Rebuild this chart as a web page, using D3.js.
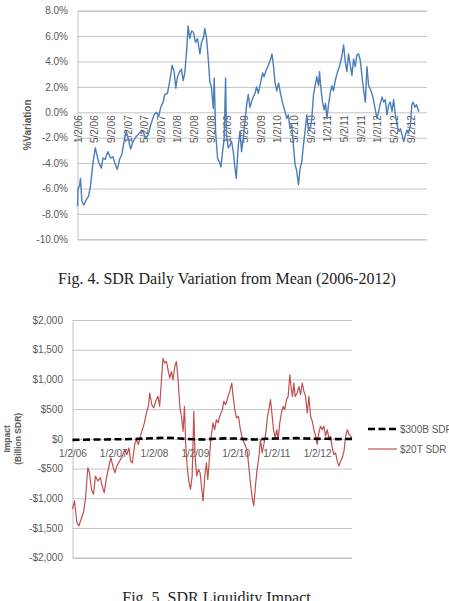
<!DOCTYPE html>
<html>
<head>
<meta charset="utf-8">
<script src="https://cdn.jsdelivr.net/npm/d3@7"></script>
<style>
  body { margin: 0; background: #fff; }
  svg { display: block; font-family: "Liberation Sans", Arial, sans-serif; }
</style>
</head>
<body>
<svg id="chart" width="449" height="601"></svg>
<script>
// ---------------- DATA ----------------
// Fig. 4: SDR daily variation from mean (%)
const c1Dates = ["2006-01-02","2006-01-06","2006-01-17","2006-01-24","2006-02-03","2006-02-17","2006-03-07","2006-03-24","2006-04-07","2006-04-24","2006-05-12","2006-05-21","2006-06-05","2006-06-25","2006-07-07","2006-07-24","2006-08-12","2006-09-01","2006-09-18","2006-10-05","2006-10-20","2006-11-06","2006-11-23","2006-12-13","2006-12-25","2007-01-06","2007-01-26","2007-02-12","2007-03-08","2007-04-02","2007-04-26","2007-05-13","2007-06-02","2007-06-21","2007-07-16","2007-08-02","2007-08-19","2007-09-03","2007-09-20","2007-10-02","2007-10-22","2007-11-08","2007-11-25","2007-12-10","2007-12-22","2008-01-03","2008-01-20","2008-02-01","2008-02-14","2008-02-26","2008-03-11","2008-03-21","2008-04-02","2008-04-15","2008-04-29","2008-05-14","2008-05-29","2008-06-15","2008-06-27","2008-07-12","2008-07-21","2008-08-03","2008-08-15","2008-08-27","2008-09-08","2008-09-21","2008-09-28","2008-10-08","2008-10-22","2008-11-04","2008-11-16","2008-11-28","2008-12-10","2008-12-20","2008-12-27","2009-01-09","2009-01-21","2009-02-02","2009-02-14","2009-02-27","2009-03-08","2009-03-23","2009-04-04","2009-04-16","2009-04-29","2009-05-11","2009-05-23","2009-06-04","2009-06-16","2009-07-06","2009-07-23","2009-08-04","2009-08-16","2009-08-28","2009-09-17","2009-09-27","2009-10-12","2009-10-29","2009-11-15","2009-11-24","2009-12-04","2009-12-16","2009-12-29","2010-01-12","2010-01-27","2010-02-11","2010-02-28","2010-03-12","2010-03-24","2010-04-05","2010-04-18","2010-04-30","2010-05-12","2010-05-24","2010-06-06","2010-06-18","2010-06-30","2010-07-12","2010-07-24","2010-08-06","2010-08-18","2010-08-30","2010-09-11","2010-09-24","2010-10-06","2010-10-18","2010-10-31","2010-11-07","2010-11-16","2010-11-29","2010-12-11","2010-12-21","2010-12-31","2011-01-12","2011-01-24","2011-02-05","2011-02-17","2011-03-02","2011-03-19","2011-04-02","2011-04-19","2011-05-02","2011-05-14","2011-05-26","2011-06-07","2011-06-20","2011-07-02","2011-07-14","2011-07-26","2011-08-07","2011-08-20","2011-09-01","2011-09-13","2011-09-26","2011-10-08","2011-10-20","2011-11-01","2011-11-18","2011-12-03","2011-12-20","2012-01-01","2012-01-13","2012-01-26","2012-02-07","2012-02-19","2012-03-02","2012-03-14","2012-03-27","2012-04-08","2012-04-20","2012-05-02","2012-05-15","2012-05-27","2012-06-08","2012-06-20","2012-07-03","2012-07-15","2012-07-27","2012-08-08","2012-08-20","2012-09-02","2012-09-12","2012-09-22","2012-10-04","2012-10-16","2012-10-28","2012-11-04"];
const c1Values = [-7.4,-6.0,-5.8,-5.2,-7.0,-7.3,-6.9,-6.6,-5.8,-4.1,-2.8,-3.2,-3.9,-4.4,-3.6,-3.7,-3.1,-3.6,-3.5,-4.1,-4.5,-3.7,-3.3,-2.0,-1.5,-2.0,-2.9,-2.3,-1.9,-1.6,-1.5,-2.0,-1.8,-1.0,-0.2,0.0,-0.3,0.4,0.8,1.4,1.5,2.5,3.7,3.2,1.9,2.8,3.2,3.4,2.5,3.1,5.0,6.8,5.8,6.4,6.3,5.5,5.8,4.6,5.5,5.9,6.6,5.8,4.2,2.4,1.9,0.3,2.7,-1.5,-3.6,-3.9,-4.3,-3.1,-2.0,2.7,-1.8,-2.8,-2.6,-2.3,-3.1,-4.4,-5.2,-2.6,-1.5,-3.1,-2.0,-0.7,0.6,1.4,0.4,1.1,1.5,2.0,1.5,2.1,3.1,2.8,3.3,3.7,4.2,4.6,3.8,2.4,1.7,2.3,1.4,0.7,0.05,-0.5,-0.2,-1.3,-1.0,-2.6,-4.1,-4.6,-5.7,-4.4,-3.9,-2.6,-1.5,-0.2,-1.4,-1.3,-0.6,1.4,2.1,2.8,2.1,3.2,2.0,0.8,0.2,0.7,-0.5,0.6,1.5,2.1,1.7,2.5,3.2,3.6,4.4,5.3,4.0,3.2,4.6,3.7,2.9,4.2,3.6,4.5,4.6,4.1,2.9,1.7,0.8,3.6,2.1,1.7,1.2,0.2,-0.5,0.05,0.7,1.2,0.8,1.0,-0.2,0.6,0.8,0.05,1.0,-0.2,-1.0,-1.5,-1.3,-1.8,-2.3,-1.8,-1.4,-1.6,-1.0,0.6,0.8,0.4,0.6,0.2,0.05];
const c1YTicks = [8,6,4,2,0,-2,-4,-6,-8,-10];
const c1XTickLabels = ["1/2/06","5/2/06","9/2/06","1/2/07","5/2/07","9/2/07","1/2/08","5/2/08","9/2/08","1/2/09","5/2/09","9/2/09","1/2/10","5/2/10","9/2/10","1/2/11","5/2/11","9/2/11","1/2/12","5/2/12","9/2/12"];

// Fig. 5: SDR liquidity impact (Billion SDR)
const c2RedDates = ["2006-01-02","2006-01-20","2006-02-10","2006-02-28","2006-03-20","2006-04-10","2006-04-28","2006-05-19","2006-06-03","2006-06-21","2006-07-09","2006-07-27","2006-08-17","2006-09-07","2006-09-25","2006-10-13","2006-10-31","2006-11-24","2006-12-12","2006-12-30","2007-01-17","2007-02-04","2007-02-28","2007-03-24","2007-04-14","2007-05-05","2007-05-23","2007-06-07","2007-06-22","2007-07-13","2007-07-28","2007-08-15","2007-09-02","2007-09-20","2007-10-08","2007-10-26","2007-11-13","2007-11-25","2007-12-13","2007-12-31","2008-01-17","2008-02-07","2008-02-22","2008-03-11","2008-03-23","2008-04-07","2008-04-22","2008-05-07","2008-05-22","2008-06-06","2008-06-21","2008-07-06","2008-07-21","2008-08-05","2008-08-20","2008-09-04","2008-09-19","2008-10-01","2008-10-13","2008-10-25","2008-11-09","2008-11-24","2008-12-09","2008-12-24","2009-01-04","2009-01-19","2009-02-03","2009-02-18","2009-03-05","2009-03-17","2009-04-01","2009-04-16","2009-04-28","2009-05-10","2009-05-25","2009-06-14","2009-06-29","2009-07-14","2009-07-29","2009-08-13","2009-09-06","2009-09-18","2009-10-06","2009-10-27","2009-11-11","2009-11-29","2009-12-11","2009-12-26","2010-01-10","2010-01-28","2010-02-14","2010-03-04","2010-03-19","2010-04-03","2010-04-18","2010-05-03","2010-05-18","2010-06-02","2010-06-14","2010-06-29","2010-07-14","2010-07-29","2010-08-13","2010-08-28","2010-09-12","2010-09-30","2010-10-15","2010-10-30","2010-11-11","2010-11-23","2010-12-08","2010-12-23","2011-01-06","2011-01-18","2011-02-02","2011-02-17","2011-03-04","2011-03-19","2011-04-03","2011-04-18","2011-05-03","2011-05-15","2011-05-27","2011-06-08","2011-06-20","2011-07-08","2011-07-23","2011-08-07","2011-08-22","2011-09-06","2011-09-21","2011-10-06","2011-10-21","2011-11-05","2011-11-20","2011-12-05","2011-12-20","2012-01-03","2012-01-18","2012-02-02","2012-02-17","2012-03-03","2012-03-18","2012-04-02","2012-04-17","2012-05-02","2012-05-17","2012-06-01","2012-06-16","2012-07-01","2012-07-16","2012-07-31","2012-08-15","2012-08-30","2012-09-14","2012-09-29","2012-10-14","2012-10-29","2012-11-10"];
const c2RedValues = [-1184,-1045,-1408,-1464,-1352,-1240,-1017,-486,-570,-849,-933,-626,-710,-654,-793,-905,-682,-458,-318,-458,-570,-458,-374,-291,-179,-263,-151,-374,-402,-95,-11,-95,45,156,268,436,548,771,575,520,631,715,548,1050,1358,1274,1302,1162,1022,1134,994,1218,1302,994,548,380,128,548,-123,-458,-710,-849,-626,464,-291,-626,-514,-570,-849,-1045,-626,-402,-682,-402,-11,268,156,324,268,380,492,631,575,715,799,939,715,492,352,380,156,17,-67,-123,-235,-514,-793,-1017,-1129,-793,-514,-318,-11,-235,-95,101,380,520,659,436,156,17,156,-11,268,436,548,492,659,715,1078,855,715,939,715,771,883,743,939,799,715,436,715,380,296,156,45,-95,101,212,156,212,45,156,17,45,-151,-263,-235,-374,-458,-374,-318,-207,45,156,73,45,17];
const c2BlackDates = ["2006-01-02","2006-04-01","2006-07-01","2006-10-01","2007-01-01","2007-04-01","2007-07-01","2007-10-01","2008-01-01","2008-04-01","2008-07-01","2008-10-01","2009-01-01","2009-04-01","2009-07-01","2009-10-01","2010-01-01","2010-04-01","2010-07-01","2010-10-01","2011-01-01","2011-04-01","2011-07-01","2011-10-01","2012-01-01","2012-04-01","2012-07-01","2012-11-10"];
const c2BlackValues = [-18,-15,-12,-12,-8,-6,-3,5,10,18,15,0,-8,-10,2,8,5,-5,-12,2,5,10,12,5,0,2,-5,0];
const c2YTicks = [2000,1500,1000,500,0,-500,-1000,-1500,-2000];
const c2XTickLabels = ["1/2/06","1/2/07","1/2/08","1/2/09","1/2/10","1/2/11","1/2/12"];
const c2SeriesNames = ["$300B SDR","$20T SDR"];

// ---------------- DRAW ----------------
const svg = d3.select("#chart");
const parseDate = d3.timeParse("%Y-%m-%d");
const parseTick = d3.timeParse("%m/%d/%y");
const GRID = "#c3c3c3", LABEL = "#595959";
const SANS = "'Liberation Sans', Arial, sans-serif";
const SERIF = "'Liberation Serif', 'Times New Roman', serif";

function styleAxis(g) {
  g.select(".domain").attr("stroke", GRID);
  g.selectAll(".tick line").attr("stroke", GRID);
  g.selectAll(".tick text").attr("fill", LABEL).style("font-size", "10px").style("font-family", SANS);
}
const minusFix = s => s.replace("\u2212", "-");

// ---- Chart 1 ----
const c1 = c1Dates.map((d, i) => ({date: parseDate(d), v: c1Values[i]}));
const x1 = d3.scaleTime().domain([parseDate("2006-01-02"), parseDate("2013-01-01")]).range([77.5, 427]);
const y1 = d3.scaleLinear().domain([-10, 8]).range([239.3, 10.7]);

const g1y = svg.append("g").attr("transform", "translate(77.5,0)")
  .call(d3.axisLeft(y1).tickValues(c1YTicks).tickSize(-(427 - 77.5)).tickPadding(9.5)
    .tickFormat(d => minusFix(d3.format(".1f")(d)) + "%"));
styleAxis(g1y);

const g1x = svg.append("g").attr("transform", `translate(0,${y1(0)})`)
  .call(d3.axisBottom(x1).tickValues(c1XTickLabels.map(parseTick)).tickSize(0)
    .tickFormat((d, i) => c1XTickLabels[i]));
styleAxis(g1x);
g1x.select(".domain").remove();
g1x.selectAll(".tick text").attr("y", 0).attr("dy", 0)
  .attr("text-anchor", "end").attr("transform", "translate(3.6,3) rotate(-90)");

svg.append("path").datum(c1)
  .attr("fill", "none").attr("stroke", "#4a7ebb").attr("stroke-width", 1.4).attr("stroke-linejoin", "round")
  .attr("d", d3.line().x(d => x1(d.date)).y(d => y1(d.v)));

svg.append("text").attr("transform", `translate(31,${(y1(8) + y1(-10)) / 2}) rotate(-90)`)
  .attr("text-anchor", "middle").style("font-size", "10px").style("font-weight", "bold").style("font-family", SANS)
  .attr("fill", LABEL).text("%Variation");

svg.append("text").attr("x", 227).attr("y", 284).attr("text-anchor", "middle")
  .style("font-family", SERIF).style("font-size", "16px").attr("fill", "#222")
  .text("Fig. 4. SDR Daily Variation from Mean (2006-2012)");

// ---- Chart 2 ----
const red = c2RedDates.map((d, i) => ({date: parseDate(d), v: c2RedValues[i]}));
const blk = c2BlackDates.map((d, i) => ({date: parseDate(d), v: c2BlackValues[i]}));
const x2 = d3.scaleTime().domain([parseDate("2006-01-02"), parseDate("2012-11-10")]).range([72.5, 352]);
const y2 = d3.scaleLinear().domain([-2000, 2000]).range([557.7, 320]);

const g2y = svg.append("g").attr("transform", "translate(72.5,0)")
  .call(d3.axisLeft(y2).tickValues(c2YTicks).tickSize(-(352 - 72.5)).tickPadding(9.5)
    .tickFormat(d => (d < 0 ? "-$" : "$") + d3.format(",")(Math.abs(d))));
styleAxis(g2y);

const g2x = svg.append("g").attr("transform", `translate(0,${y2(0)})`)
  .call(d3.axisBottom(x2).tickValues(c2XTickLabels.map(parseTick)).tickSize(0).tickPadding(11.5)
    .tickFormat((d, i) => c2XTickLabels[i]));
styleAxis(g2x);
g2x.select(".domain").remove();

const line2 = d3.line().x(d => x2(d.date)).y(d => y2(d.v));
svg.append("path").datum(red)
  .attr("fill", "none").attr("stroke", "#c0504d").attr("stroke-width", 1.2).attr("stroke-linejoin", "round")
  .attr("d", line2);
svg.append("path").datum(blk)
  .attr("fill", "none").attr("stroke", "#000").attr("stroke-width", 2.6).attr("stroke-dasharray", "7,3.5")
  .attr("d", line2);

const yMid2 = (y2(2000) + y2(-2000)) / 2;
const t2 = svg.append("text").attr("transform", `translate(0,${yMid2}) rotate(-90)`)
  .attr("text-anchor", "middle").style("font-size", "8.5px").style("font-weight", "bold").style("font-family", SANS)
  .attr("fill", LABEL);
t2.append("tspan").attr("x", 0).attr("y", 10).text("Impact");
t2.append("tspan").attr("x", 0).attr("y", 20.5).text("(Billion SDR)");

// legend
const legend = svg.append("g").attr("transform", "translate(368,429)");
c2SeriesNames.forEach((name, i) => {
  const row = legend.append("g").attr("transform", `translate(0,${i * 20})`);
  row.append("line").attr("x1", 0).attr("x2", 29).attr("y1", 0).attr("y2", 0)
    .attr("stroke", i === 0 ? "#000" : "#c0504d")
    .attr("stroke-width", i === 0 ? 2.6 : 1.2)
    .attr("stroke-dasharray", i === 0 ? "7,3.5" : null);
  row.append("text").attr("x", 32).attr("y", 3.5).style("font-size", "10px").style("font-family", SANS)
    .attr("fill", LABEL).text(name);
});

svg.append("text").attr("x", 216.5).attr("y", 603).attr("text-anchor", "middle")
  .style("font-family", SERIF).style("font-size", "16px").attr("fill", "#222")
  .text("Fig. 5. SDR Liquidity Impact");
</script>
</body>
</html>
